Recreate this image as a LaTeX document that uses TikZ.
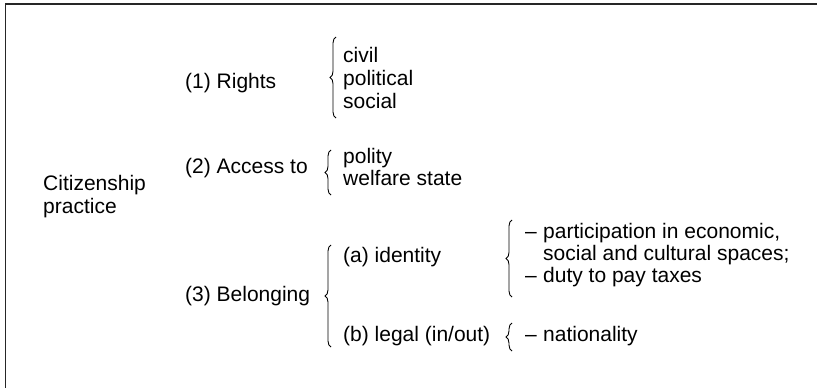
\documentclass[tikz,border=0pt]{standalone}
\usepackage{fontspec}
\setmainfont{Liberation Sans}
\usetikzlibrary{decorations.pathreplacing}
\begin{document}
\begin{tikzpicture}[x=1pt,y=-1pt,
  txt/.style={anchor=base west,inner sep=0pt,font=\fontsize{21}{22}\selectfont},
  brc/.style={decorate,decoration={brace,amplitude=6pt},line width=0.9pt},
  frame/.style={line width=1.3pt,draw=black!85}]
\useasboundingbox (0,0) rectangle (817,388);
\draw[frame] (5.5,388) -- (5.5,4) -- (817,4);
% left column
\node[txt] (cit) at (43,190) {Citizenship};
\node[txt] (pra) at (43,213) {practice};
% second column
\node[txt] (r1) at (185,88) {(1) Rights};
\node[txt] (r2) at (185,173) {(2) Access to};
\node[txt] (r3) at (185,301) {(3) Belonging};
% third column
\node[txt] (civ) at (343,62) {civil};
\node[txt] (pol) at (343,85) {political};
\node[txt] (soc) at (343,108) {social};
\node[txt] (poy) at (343,163) {polity};
\node[txt] (wel) at (343,185) {welfare state};
\node[txt] (ide) at (343,262) {(a) identity};
\node[txt] (leg) at (343,341) {(b) legal (in/out)};
% fourth column
\node[txt] (d1) at (525,238) {–};
\node[txt] (t1) at (543,238) {participation in economic,};
\node[txt] (t2) at (543,260) {social and cultural spaces;};
\node[txt] (d2) at (525,282) {–};
\node[txt] (t3) at (543,282) {duty to pay taxes};
\node[txt] (d3) at (525,341) {–};
\node[txt] (t4) at (543,341) {nationality};
% braces
\coordinate (b1t) at (336,37);  \coordinate (b1b) at (336,118);
\coordinate (b2t) at (331,150); \coordinate (b2b) at (331,195);
\coordinate (b3t) at (331,245); \coordinate (b3b) at (331,347);
\coordinate (b4t) at (512,220); \coordinate (b4b) at (512,297);
\coordinate (b5t) at (512,323); \coordinate (b5b) at (512,351);
\draw[brc] (b1b) -- (b1t);
\draw[brc] (b2b) -- (b2t);
\draw[brc] (b3b) -- (b3t);
\draw[brc] (b4b) -- (b4t);
\draw[brc] (b5b) -- (b5t);
\end{tikzpicture}
\end{document}
